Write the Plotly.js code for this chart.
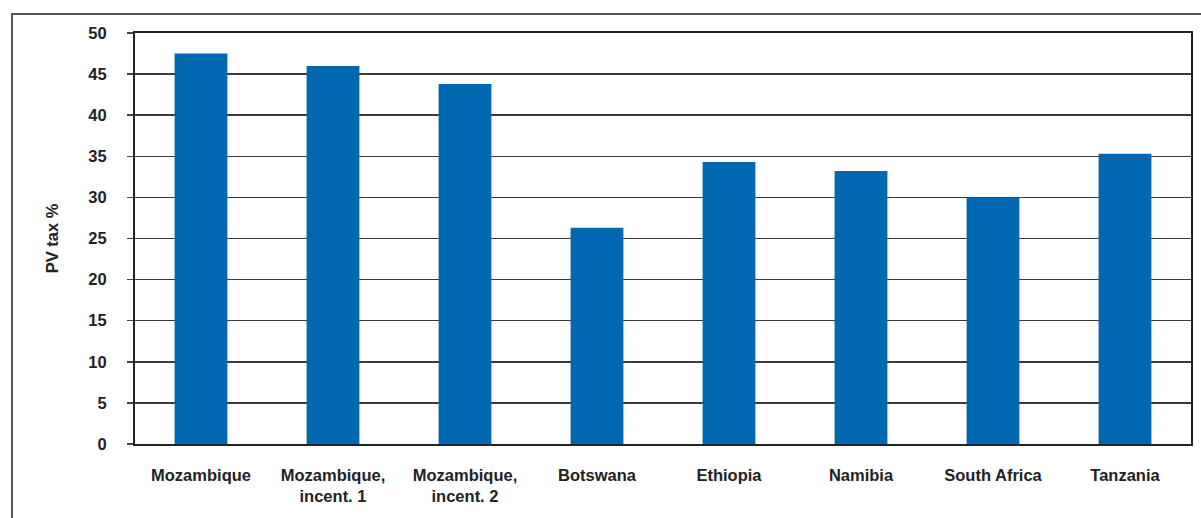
<!DOCTYPE html>
<html>
<head>
<meta charset="utf-8">
<script src="https://cdn.plot.ly/plotly-3.0.1.min.js"></script>
<style>
  html, body { margin: 0; padding: 0; background: #fff; }
  #wrap { position: relative; width: 1201px; height: 518px; overflow: hidden; }
  #frame { position: absolute; left: 11px; top: 13px; width: 1300px; height: 600px;
           border: 2px solid #555; box-sizing: border-box; }
  #chart { position: absolute; left: 0; top: 0; width: 1201px; height: 518px; }
</style>
</head>
<body>
<div id="wrap">
  <div id="frame"></div>
  <div id="chart"></div>
</div>
<script>
const categories = [
  "Mozambique",
  "Mozambique,<br>incent. 1",
  "Mozambique,<br>incent. 2",
  "Botswana",
  "Ethiopia",
  "Namibia",
  "South Africa",
  "Tanzania"
];
const pvTax = [47.5, 46.0, 43.8, 26.3, 34.3, 33.2, 30.0, 35.3];
const yTickVals = [0, 5, 10, 15, 20, 25, 30, 35, 40, 45, 50];
const yTitle = "PV tax %";

const fontFam = "Liberation Sans, Arial, Helvetica, sans-serif";

const trace = {
  type: "bar",
  x: categories,
  y: pvTax,
  marker: { color: "#0067B1", line: { width: 0 } },
  width: 0.4,
  hoverinfo: "x+y"
};

const layout = {
  width: 1201,
  height: 518,
  margin: { l: 135, r: 10, t: 33, b: 74, pad: 0 },
  paper_bgcolor: "rgba(0,0,0,0)",
  plot_bgcolor: "#ffffff",
  showlegend: false,
  bargap: 0.6,
  font: { family: fontFam, size: 16.5, color: "#222", weight: 700 },
  xaxis: {
    type: "category",
    showline: true,
    linecolor: "#222",
    linewidth: 2,
    mirror: true,
    ticks: "",
    showgrid: false,
    tickfont: { family: fontFam, size: 16.5, color: "#222", weight: 700 },
    ticklabelstandoff: 15,
    automargin: false
  },
  yaxis: {
    range: [0, 50],
    tickvals: yTickVals,
    ticktext: yTickVals.map(String),
    showline: true,
    linecolor: "#222",
    linewidth: 2,
    mirror: true,
    ticks: "outside",
    ticklen: 6,
    tickwidth: 1.5,
    tickcolor: "#444",
    showgrid: true,
    gridcolor: "#3a3a3a",
    gridwidth: 1.5,
    zeroline: false,
    tickfont: { family: fontFam, size: 16.5, color: "#222", weight: 700 },
    ticklabelstandoff: 17,
    title: { text: yTitle, font: { family: fontFam, size: 16.5, color: "#222", weight: 700 }, standoff: 26 },
    automargin: false
  }
};

Plotly.newPlot("chart", [trace], layout, { displayModeBar: false, staticPlot: true });
</script>
</body>
</html>
